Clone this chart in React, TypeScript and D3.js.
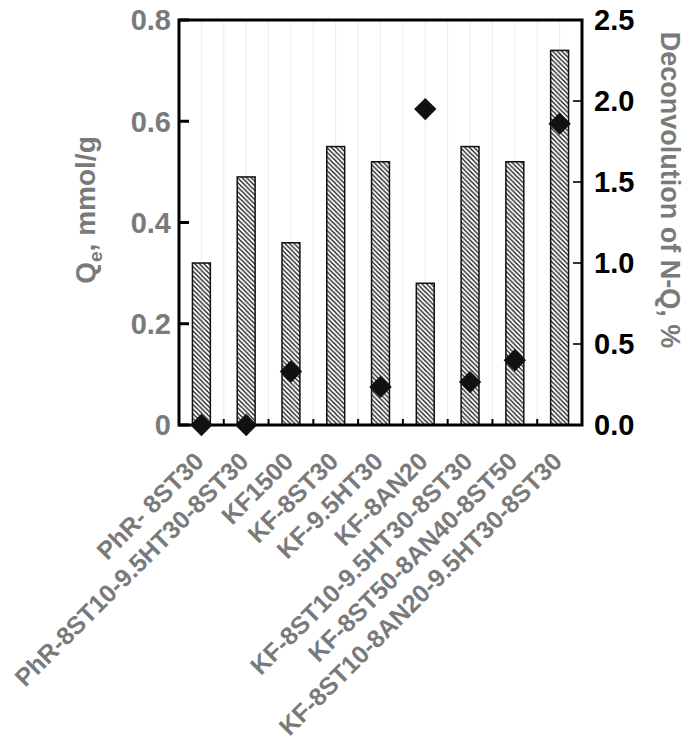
import React, { useEffect } from 'react';
import * as d3 from 'd3';

// sample names, left to right
const categories = [
  'PhR- 8ST30',
  'PhR-8ST10-9.5HT30-8ST30',
  'KF1500',
  'KF-8ST30',
  'KF-9.5HT30',
  'KF-8AN20',
  'KF-8ST10-9.5HT30-8ST30',
  'KF-8ST50-8AN40-8ST50',
  'KF-8ST10-8AN20-9.5HT30-8ST30',
];

// Qe, mmol/g (bars, left axis)
const qe = [0.32, 0.49, 0.36, 0.55, 0.52, 0.28, 0.55, 0.52, 0.74];

// N-Q share, % (diamonds, right axis); null = not measured
const nq: (number | null)[] = [0, 0, 0.33, null, 0.235, 1.95, 0.265, 0.4, 1.86];

const leftTicks = [0, 0.2, 0.4, 0.6, 0.8];
const rightTicks = [0, 0.5, 1.0, 1.5, 2.0, 2.5];

const W = 685;
const H = 749;
const grey = '#7a7a7a';
const font = '"Liberation Sans", Arial, sans-serif';

const App = () => {
  useEffect(() => {
    document.body.style.margin = '0';
  }, []);

  const left = 179, right = 582, top = 20, bottom = 425;

  const x = d3.scaleBand()
    .domain(categories)
    .range([left, right])
    .paddingInner(0.6)
    .paddingOuter(0.3);
  const step = x.step();

  const yL = d3.scaleLinear().domain([0, 0.8]).range([bottom, top]);
  const yR = d3.scaleLinear().domain([0, 2.5]).range([bottom, top]);

  const centers = categories.map(c => (x(c) as number) + x.bandwidth() / 2);
  const bounds = categories.slice(1).map(c => (x(c) as number) - step * 0.3);
  const gridXs = [...centers, ...bounds];

  const diamond = d3.symbol().type(d3.symbolSquare).size(250)();

  return (
    <svg width={W} height={H} style={{ display: 'block' }} fontFamily={font}>
      <defs>
        <pattern id="hatch" patternUnits="userSpaceOnUse" width="4.6" height="4.6">
          <path d="M-1,-1 L5.6,5.6 M-1,3.6 L1,5.6 M3.6,-1 L5.6,1" stroke="#111" strokeWidth="1.2" />
        </pattern>
      </defs>
      <rect x={0} y={0} width={W} height={H} fill="#fff" />

      {/* faint vertical grid */}
      {gridXs.map((gx, i) => (
        <line key={'g' + i} x1={gx} x2={gx} y1={top} y2={bottom} stroke="#ececec" strokeWidth={1} />
      ))}

      {/* bars */}
      {categories.map((c, i) => (
        <rect
          key={c}
          x={x(c)}
          y={yL(qe[i])}
          width={x.bandwidth()}
          height={bottom - yL(qe[i])}
          fill="url(#hatch)"
          stroke="#111"
          strokeWidth={1.5}
        />
      ))}

      {/* frame */}
      <rect x={left} y={top} width={right - left} height={bottom - top} fill="none" stroke="#000" strokeWidth={3} />

      {/* left ticks */}
      {leftTicks.map(t => (
        <g key={'l' + t}>
          <line x1={left} x2={left + 10} y1={yL(t)} y2={yL(t)} stroke="#000" strokeWidth={3} />
          <text x={left - 8} y={yL(t)} dy="0.36em" textAnchor="end" fontSize={29} fontWeight="bold" fill={grey}>
            {t === 0 ? '0' : t.toFixed(1)}
          </text>
        </g>
      ))}

      {/* right ticks */}
      {rightTicks.map(t => (
        <g key={'r' + t}>
          <line x1={right - 9} x2={right} y1={yR(t)} y2={yR(t)} stroke="#000" strokeWidth={1.6} />
          <text x={right + 12} y={yR(t)} dy="0.36em" textAnchor="start" fontSize={29} fontWeight="bold" fill="#000">
            {t.toFixed(1)}
          </text>
        </g>
      ))}

      {/* bottom ticks between categories */}
      {bounds.map((bx, i) => (
        <line key={'b' + i} x1={bx} x2={bx} y1={bottom} y2={bottom - 6} stroke="#000" strokeWidth={2} />
      ))}

      {/* diamonds */}
      {nq.map((v, i) =>
        v === null ? null : (
          <path
            key={'d' + i}
            d={diamond as string}
            transform={`translate(${centers[i]},${yR(v)}) rotate(45)`}
            fill="#111"
          />
        )
      )}

      {/* category labels */}
      {categories.map((c, i) => (
        <text
          key={'t' + c}
          transform={`translate(${centers[i] + 4},${bottom + 38}) rotate(-45)`}
          textAnchor="end"
          fontSize={25}
          fontWeight="bold"
          fill={grey}
        >
          {c}
        </text>
      ))}

      {/* axis titles */}
      <text
        transform="translate(95,210) rotate(-90)"
        textAnchor="middle"
        fontSize={28}
        fontWeight="bold"
        fill={grey}
      >
        Q<tspan fontSize={19} dy={7}>e</tspan><tspan dy={-7}>, mmol/g</tspan>
      </text>
      <text
        transform="translate(661,190) rotate(90)"
        textAnchor="middle"
        fontSize={27}
        fontWeight="bold"
        fill={grey}
      >
        Deconvolution of N-Q, %
      </text>
    </svg>
  );
};

export default App;
